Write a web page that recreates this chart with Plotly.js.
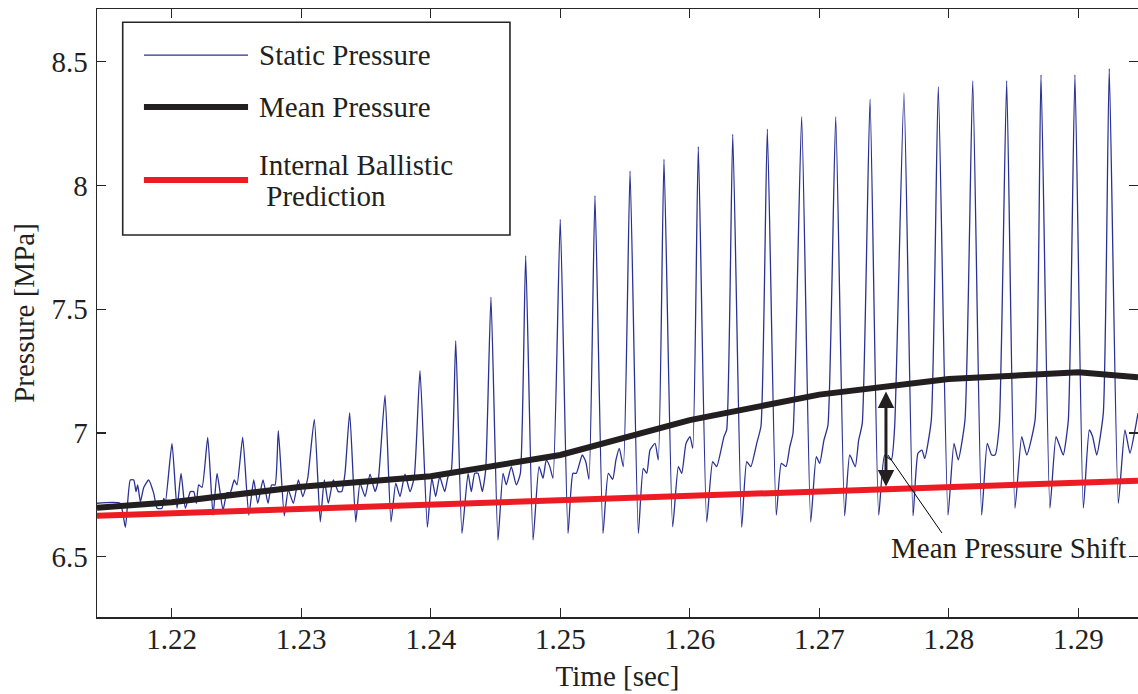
<!DOCTYPE html>
<html>
<head>
<meta charset="utf-8">
<script src="https://cdn.plot.ly/plotly-3.0.1.min.js"></script>
<style>html,body{margin:0;padding:0;background:#fff;}#chart{width:1138px;height:694px;}</style>
</head>
<body>
<div id="chart"></div>
<script>
// ---- Data ----
const staticT = [1.21423,1.21601,1.21642,1.21680,1.21707,1.21724,1.21737,1.21758,1.21784,1.21822,1.21861,1.21887,1.21925,1.21938,1.21951,
 1.22002,1.22041,1.22072,1.22105,1.22144,1.22170,1.22190,1.22208,1.22234,
 1.22278,1.22319,1.22350,1.22396,1.22427,1.22452,1.22483,1.22504,
 1.22548,1.22595,1.22633,1.22664,1.22705,1.22744,1.22771,1.22798,
 1.22823,1.22869,1.22900,1.22939,1.22978,1.23012,1.23050,
 1.23101,1.23147,1.23178,1.23209,1.23248,1.23286,1.23313,1.23338,
 1.23374,1.23421,1.23454,1.23493,1.23531,1.23570,1.23595,
 1.23647,1.23693,1.23730,1.23763,1.23801,1.23840,1.23873,
 1.23917,1.23974,1.24008,1.24038,1.24069,1.24108,1.24133,1.24159,
 1.24193,1.24241,1.24288,1.24313,1.24340,1.24365,1.24398,1.24424,
 1.24465,1.24519,1.24558,1.24583,1.24622,1.24661,1.24692,
 1.24733,1.24790,1.24836,1.24867,1.24892,1.24919,1.24944,
 1.25000,1.25060,1.25098,1.25124,1.25170,1.25197,1.25222,
 1.25268,1.25330,1.25371,1.25405,1.25430,1.25456,1.25487,
 1.25539,1.25603,1.25641,1.25668,1.25693,1.25732,1.25757,
 1.25801,1.25868,1.25912,1.25938,1.25971,1.26002,1.26023,
 1.26066,1.26131,1.26177,1.26208,1.26264,1.26285,
 1.26332,1.26401,1.26440,1.26471,1.26517,1.26550,
 1.26599,1.26668,1.26707,1.26743,1.26772,1.26797,
 1.26864,1.26934,1.26977,1.27003,1.27036,1.27067,
 1.27127,1.27196,1.27235,1.27278,1.27304,1.27332,
 1.27392,1.27459,1.27505,1.27556,1.27582,
 1.27654,1.27724,1.27762,1.27793,1.27814,1.27865,
 1.27919,1.27994,1.28040,1.28073,1.28125,
 1.28185,1.28254,1.28297,1.28331,1.28357,1.28390,
 1.28447,1.28511,1.28563,1.28602,1.28666,
 1.28712,1.28781,1.28828,1.28859,1.28884,1.28923,
 1.28974,1.29039,1.29085,1.29111,1.29142,1.29193,
 1.29239,1.29309,1.29360,1.29399,1.29438,1.29461];
const staticP = [6.716,6.716,6.619,6.810,6.810,6.763,6.790,6.722,6.780,6.810,6.756,6.696,6.696,6.736,6.720,
 6.958,6.696,6.837,6.696,6.763,6.763,6.716,6.790,6.780,
 6.982,6.668,6.837,6.689,6.759,6.759,6.810,6.790,
 6.982,6.668,6.810,6.716,6.810,6.716,6.790,6.790,
 7.009,6.665,6.770,6.716,6.810,6.743,6.817,
 7.055,6.641,6.810,6.716,6.810,6.763,6.763,6.837,
 7.082,6.641,6.797,6.743,6.834,6.763,6.810,
 7.153,6.641,6.797,6.743,6.834,6.763,6.823,
 7.252,6.619,6.817,6.743,6.823,6.763,6.823,6.850,
 7.373,6.594,6.837,6.763,6.837,6.837,6.763,6.850,
 7.549,6.567,6.837,6.790,6.864,6.790,6.837,
 7.716,6.567,6.864,6.817,6.891,6.864,6.817,
 7.863,6.594,6.837,6.837,6.911,6.884,6.813,
 7.959,6.594,6.837,6.813,6.891,6.938,6.864,
 8.058,6.594,6.857,6.837,6.931,6.958,6.891,
 8.106,6.621,6.864,6.837,6.958,6.985,6.938,
 8.157,6.641,6.884,6.864,6.985,7.012,
 8.207,6.619,6.884,6.864,6.958,7.028,
 8.228,6.668,6.877,6.864,6.944,6.999,
 8.278,6.641,6.904,6.877,6.971,7.032,
 8.278,6.665,6.911,6.864,6.971,7.039,
 8.349,6.668,6.910,6.891,7.025,
 8.375,6.665,6.918,6.931,6.897,7.052,
 8.399,6.668,6.958,6.891,7.052,
 8.423,6.668,6.958,6.911,6.911,7.032,
 8.423,6.696,6.985,6.911,7.052,
 8.447,6.696,6.985,6.944,6.911,7.052,
 8.447,6.696,7.012,6.985,6.911,7.079,
 8.472,6.716,7.012,6.918,7.012,7.080];

const meanT = [1.21423,1.22,1.23,1.24,1.25,1.26,1.27,1.28,1.29,1.29461];
const meanP = [6.698,6.720,6.783,6.825,6.911,7.052,7.155,7.218,7.245,7.225];

const predT = [1.21423,1.22,1.23,1.24,1.25,1.26,1.27,1.28,1.29,1.29461];
const predP = [6.665,6.675,6.693,6.711,6.728,6.746,6.764,6.782,6.799,6.807];

const xTickVals = [1.22,1.23,1.24,1.25,1.26,1.27,1.28,1.29];
const xTickText = ["1.22","1.23","1.24","1.25","1.26","1.27","1.28","1.29"];
const yTickVals = [6.5,7,7.5,8,8.5];
const yTickText = ["6.5","7","7.5","8","8.5"];

const seriesNames = ["Static Pressure","Mean Pressure","Internal Ballistic","\u00a0Prediction"];
const shiftLabel = "Mean Pressure Shift";
// shift arrow: time, upper end, lower end
const shiftT = 1.27515, shiftTop = 7.168, shiftBottom = 6.778;
// leader line from arrow to label
const leaderT = [1.2753, 1.27947], leaderP = [6.911, 6.596];
const labelT = 1.27538, labelP = 6.535;

const xRange = [1.21423, 1.29461];
const yRange = [6.2564, 8.713];

// ---- Styles ----
const FONT = "Liberation Serif";
const TXT = "#231f20";
const AX = "#262626";
const BLUE = "#2a3192", BLACK = "#231f20", RED = "#ed1c24";

const traces = [
  {x: staticT, y: staticP, mode: "lines", name: seriesNames[0], line: {color: BLUE, width: 1.3, shape: "spline", smoothing: 0.5}},
  {x: meanT, y: meanP, mode: "lines", name: seriesNames[1], line: {color: BLACK, width: 6}},
  {x: predT, y: predP, mode: "lines", name: seriesNames[2] + " " + seriesNames[3].trim(), line: {color: RED, width: 6}}
];

// legend drawn in paper space
const L = {x0: 0.0247, x1: 0.3967, y0: 0.6283, y1: 0.9781, lx0: 0.0451, lx1: 0.1451, tx: 0.1537,
           rows: [0.9243, 0.8388, 0.7188], ib1: 0.7440, ib2: 0.6930};

const shapes = [
  {type: "rect", xref: "paper", yref: "paper", x0: L.x0, x1: L.x1, y0: L.y0, y1: L.y1,
   line: {color: AX, width: 1.6}, fillcolor: "#ffffff", layer: "above"},
  {type: "line", xref: "paper", yref: "paper", x0: L.lx0, x1: L.lx1, y0: L.rows[0], y1: L.rows[0], line: {color: BLUE, width: 1.3}},
  {type: "line", xref: "paper", yref: "paper", x0: L.lx0, x1: L.lx1, y0: L.rows[1], y1: L.rows[1], line: {color: BLACK, width: 6}},
  {type: "line", xref: "paper", yref: "paper", x0: L.lx0, x1: L.lx1, y0: L.rows[2], y1: L.rows[2], line: {color: RED, width: 6}},
  {type: "line", xref: "x", yref: "y", x0: leaderT[0], x1: leaderT[1], y0: leaderP[0], y1: leaderP[1], line: {color: "#000", width: 1}}
];

const legFont = {family: FONT, size: 29, color: TXT};
const annotations = [
  {xref: "paper", yref: "paper", x: L.tx, y: L.rows[0], text: seriesNames[0], showarrow: false, xanchor: "left", yanchor: "middle", font: legFont},
  {xref: "paper", yref: "paper", x: L.tx, y: L.rows[1], text: seriesNames[1], showarrow: false, xanchor: "left", yanchor: "middle", font: legFont},
  {xref: "paper", yref: "paper", x: L.tx, y: L.ib1, text: seriesNames[2], showarrow: false, xanchor: "left", yanchor: "middle", font: legFont},
  {xref: "paper", yref: "paper", x: L.tx, y: L.ib2, text: seriesNames[3], showarrow: false, xanchor: "left", yanchor: "middle", font: legFont},
  {xref: "x", yref: "y", axref: "x", ayref: "y", x: shiftT, y: shiftTop, ax: shiftT, ay: shiftBottom, text: "",
   showarrow: true, arrowside: "end+start", arrowhead: 2, startarrowhead: 2, arrowsize: 1.1, startarrowsize: 1.1,
   arrowwidth: 3, arrowcolor: BLACK, standoff: 0, startstandoff: 0},
  {xref: "x", yref: "y", x: labelT, y: labelP, text: shiftLabel, showarrow: false, xanchor: "left", yanchor: "middle", font: legFont}
];

const axisCommon = {
  showline: true, mirror: "ticks", linecolor: AX, linewidth: 1.5,
  ticks: "inside", ticklen: 9, tickwidth: 1.2, tickcolor: AX,
  showgrid: false, zeroline: false, automargin: false,
  tickfont: {family: FONT, size: 29, color: TXT}
};

const layout = {
  width: 1138, height: 694,
  margin: {l: 97, r: 0, t: 9, b: 77, pad: 0},
  paper_bgcolor: "#ffffff", plot_bgcolor: "#ffffff",
  showlegend: false,
  xaxis: Object.assign({}, axisCommon, {
    range: xRange, tickvals: xTickVals, ticktext: xTickText, ticklabelstandoff: -4,
    title: {text: "Time [sec]", font: {family: FONT, size: 29, color: TXT}, standoff: 11}
  }),
  yaxis: Object.assign({}, axisCommon, {
    range: yRange, tickvals: yTickVals, ticktext: yTickText, ticklabelstandoff: 2,
    title: {text: "Pressure [MPa]", font: {family: FONT, size: 29, color: TXT}, standoff: 8}
  }),
  shapes: shapes,
  annotations: annotations
};

Plotly.newPlot("chart", traces, layout, {staticPlot: true, displayModeBar: false});
</script>
</body>
</html>
